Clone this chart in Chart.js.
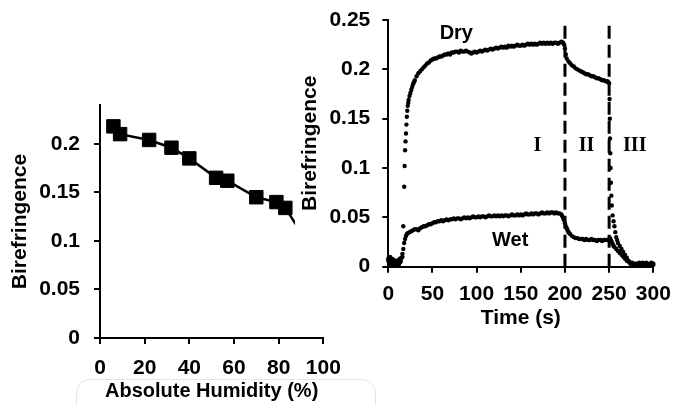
<!DOCTYPE html>
<html><head><meta charset="utf-8">
<script src="https://cdn.jsdelivr.net/npm/chart.js@4.4.1/dist/chart.umd.min.js"></script>
<style>
html,body{margin:0;padding:0;background:#fff;}
body{width:674px;height:405px;position:relative;overflow:hidden;}
#c1{position:absolute;left:0;top:90px;}
#c2{position:absolute;left:295px;top:0;}
#box{position:absolute;left:76px;top:379px;width:298px;height:40px;border:1px solid #e6e6e6;border-radius:14px;}
</style></head>
<body>
<div id="box"></div>
<canvas id="c1" width="345" height="315"></canvas>
<canvas id="c2" width="379" height="335"></canvas>
<script>
// ---------- Left panel: birefringence vs absolute humidity ----------
const humidity = [6, 9, 22, 32, 40, 52, 57, 70, 79, 83, 93];
const humidityBirefringence = [0.218, 0.210, 0.204, 0.196, 0.185, 0.165, 0.162, 0.145, 0.140, 0.134, 0.098];
const humidityXTicks = [0, 20, 40, 60, 80, 100];
const humidityXTickLabels = ['0', '20', '40', '60', '80', '100'];
const humidityYTicks = [0, 0.05, 0.1, 0.15, 0.2];
const humidityYTickLabels = ['0', '0.05', '0.1', '0.15', '0.2'];

// ---------- Right panel: birefringence vs time ----------
const dryTimes = [
  0,2,4,6,8,10,12,14,16,
  17,18,18.5,19,19.5,20,20.5,21,21.5,22,22.5,23,24,25,26,27,28,29,30,
  32,34,36,38,40,42,44,46,48,50,52,54,56,58,60,62,64,66,68,70,72,74,76,78,80,82,84,86,88,90,92,94,96,98,
  100,102,104,106,108,110,112,114,116,118,120,122,124,126,128,130,132,134,136,138,140,142,144,146,148,150,152,154,156,158,160,162,164,166,168,170,172,174,176,178,180,182,184,186,188,190,192,194,196,198,
  199,200,201,202,204,206,208,210,212,214,216,218,220,222,224,226,228,230,232,234,236,238,240,242,244,246,248,249,250,
  250.5,250.8,251,251.3,251.6,252,252.5,253,254,255,256,257,258,259,260,
  262,264,266,268,270,272,274,276,278,280,282,284,286,288,290,292,294,296,298,300
];
const dryValues = [
  0.006,0.003,0.008,0.004,0.002,0.006,0.003,0.007,0.010,
  0.041,0.081,0.102,0.118,0.127,0.135,0.144,0.152,0.158,0.163,0.166,0.169,0.173,0.176,0.179,0.182,0.185,0.187,0.189,
  0.193,0.196,0.198,0.200,0.202,0.204,0.206,0.207,0.209,0.210,0.211,0.211,0.212,0.213,0.213,0.214,0.215,0.215,0.216,0.215,0.217,0.217,0.218,0.218,0.217,0.219,0.218,0.218,0.219,0.218,0.217,0.216,0.217,0.218,
  0.217,0.218,0.219,0.218,0.219,0.220,0.219,0.220,0.221,0.220,0.221,0.222,0.221,0.222,0.223,0.222,0.223,0.222,0.224,0.223,0.224,0.223,0.224,0.225,0.224,0.224,0.225,0.224,0.225,0.226,0.225,0.226,0.225,0.226,0.225,0.226,0.227,0.226,0.227,0.226,0.227,0.226,0.227,0.226,0.227,0.227,0.226,0.227,0.228,0.227,
  0.225,0.221,0.215,0.211,0.208,0.206,0.204,0.203,0.201,0.200,0.199,0.198,0.197,0.196,0.195,0.195,0.194,0.193,0.193,0.192,0.191,0.191,0.190,0.189,0.189,0.188,0.188,0.187,0.186,
  0.170,0.150,0.130,0.115,0.100,0.085,0.072,0.062,0.052,0.046,0.041,0.035,0.030,0.027,0.024,
  0.021,0.018,0.015,0.012,0.009,0.006,0.004,0.003,0.002,0.003,0.001,0.004,0.002,0.003,0.001,0.004,0.002,0.003,0.001,0.003
];
const wetTimes = [
  0,1,2,3,4,5,6,7,8,9,10,11,12,13,14,15,16,
  17,18,19,20,21,22,
  24,26,28,30,32,34,36,38,40,42,44,46,48,50,52,54,56,58,60,62,64,66,68,70,72,74,76,78,80,82,84,86,88,90,92,94,96,98,
  100,102,104,106,108,110,112,114,116,118,120,122,124,126,128,130,132,134,136,138,140,142,144,146,148,150,152,154,156,158,160,162,164,166,168,170,172,174,176,178,180,182,184,186,188,190,192,194,196,
  197,198,199,200,201,202,203,204,205,206,
  208,210,212,214,216,218,220,222,224,226,228,230,232,234,236,238,240,242,244,246,248,250,
  251,252,253,254,255,256,
  258,260,262,264,266,268,270,272,274,276,278,280,282,284,286,288,290,292,294,296,298,300
];
const wetValues = [
  0.008,0.004,0.010,0.003,0.006,0.002,0.007,0.004,0.001,0.005,0.003,0.006,0.002,0.008,0.005,0.009,0.013,
  0.018,0.024,0.028,0.031,0.033,0.034,
  0.035,0.036,0.037,0.038,0.038,0.037,0.039,0.040,0.041,0.041,0.042,0.043,0.043,0.044,0.045,0.045,0.046,0.046,0.047,0.046,0.047,0.048,0.047,0.048,0.048,0.049,0.048,0.049,0.049,0.048,0.049,0.050,0.049,0.050,0.049,0.050,0.051,0.050,
  0.050,0.051,0.050,0.051,0.051,0.050,0.051,0.052,0.051,0.051,0.052,0.051,0.052,0.051,0.052,0.051,0.052,0.052,0.051,0.052,0.053,0.052,0.052,0.053,0.052,0.053,0.052,0.053,0.054,0.053,0.053,0.054,0.053,0.054,0.054,0.053,0.054,0.055,0.054,0.054,0.055,0.054,0.055,0.055,0.054,0.055,0.054,0.054,0.053,
  0.051,0.049,0.047,0.044,0.041,0.039,0.037,0.035,0.034,0.033,
  0.031,0.030,0.029,0.029,0.028,0.028,0.028,0.027,0.028,0.027,0.027,0.028,0.027,0.027,0.026,0.027,0.027,0.026,0.027,0.027,0.027,0.028,
  0.029,0.027,0.025,0.023,0.021,0.020,
  0.018,0.016,0.014,0.012,0.010,0.008,0.006,0.005,0.003,0.004,0.002,0.003,0.001,0.003,0.002,0.004,0.002,0.001,0.003,0.002,0.004,0.002
];
const phaseBoundaries = [200, 250];
const timeXTicks = [0, 50, 100, 150, 200, 250, 300];
const timeXTickLabels = ['0', '50', '100', '150', '200', '250', '300'];
const timeYTicks = [0, 0.05, 0.1, 0.15, 0.2, 0.25];
const timeYTickLabels = ['0', '0.05', '0.1', '0.15', '0.2', '0.25'];
const curveLabels = ['Dry', 'Wet'];
const curveLabelAt = [[77, 0.236], [138, 0.027]];
const phaseLabels = ['I', 'II', 'III'];
const phaseLabelAt = [[168.7, 0.122], [224.3, 0.122], [279, 0.122]];

// ---------- shared styling ----------
const SANS = '"Liberation Sans", Arial, sans-serif';
const SERIF = '"Liberation Serif", "Times New Roman", serif';
Chart.defaults.color = '#000';
Chart.defaults.font.family = SANS;

function axisStyle(tickVals, tickLabels, pad, titleText, titleSize, titlePad) {
  return {
    type: 'linear',
    afterBuildTicks: s => { s.ticks = tickVals.map(v => ({ value: v })); },
    ticks: {
      autoSkip: false, maxRotation: 0, padding: pad, color: '#000',
      font: { family: SANS, size: 21, weight: 'bold' },
      callback: (v, i) => tickLabels[i]
    },
    grid: { display: true, drawOnChartArea: false, drawTicks: true, tickLength: 6, tickWidth: 2, tickColor: '#000', color: '#000', lineWidth: 2 },
    border: { display: true, color: '#000', width: 2 },
    title: { display: true, text: titleText, color: '#000', font: { family: SANS, size: titleSize, weight: 'bold' }, padding: titlePad }
  };
}

// ---------- left chart ----------
const leftX = axisStyle(humidityXTicks, humidityXTickLabels, 12, 'Absolute Humidity (%)', 20, { top: 0, bottom: 1.5 });
leftX.min = 0; leftX.max = 100; leftX.afterFit = s => { s.height = 67; s.paddingLeft = 0; s.paddingRight = 0; };
const leftY = axisStyle(humidityYTicks, humidityYTickLabels, 14, 'Birefringence', 21, { top: 7.4, bottom: 0 });
leftY.min = 0; leftY.max = 0.24; leftY.afterFit = s => { s.width = 100; s.paddingTop = 0; s.paddingBottom = 0; };

new Chart(document.getElementById('c1'), {
  type: 'scatter',
  data: {
    datasets: [{
      data: humidity.map((h, i) => ({ x: h, y: humidityBirefringence[i] })),
      showLine: true, borderColor: '#000', borderWidth: 2.5,
      pointStyle: 'rect', pointRadius: 9.5, pointBackgroundColor: '#000', pointBorderColor: '#000', pointBorderWidth: 1,
      clip: false
    }]
  },
  options: {
    responsive: false, animation: false, devicePixelRatio: 1,
    layout: { padding: { left: 0, top: 15, right: 21.7, bottom: 0 } },
    plugins: { legend: { display: false }, tooltip: { enabled: false } },
    scales: { x: leftX, y: leftY }
  }
});

// ---------- right chart ----------
const rightX = axisStyle(timeXTicks, timeXTickLabels, 9, 'Time (s)', 21, { top: 0, bottom: 4.4 });
rightX.min = 0; rightX.max = 300; rightX.afterFit = s => { s.height = 68.3; s.paddingLeft = 0; s.paddingRight = 0; };
const rightY = axisStyle(timeYTicks, timeYTickLabels, 12, 'Birefringence', 21, { top: 2.4, bottom: 0 });
rightY.min = 0; rightY.max = 0.25; rightY.afterFit = s => { s.width = 93.3; s.paddingTop = 0; s.paddingBottom = 0; };

const whiteBg = {
  id: 'whiteBg',
  beforeDraw(chart) {
    const c = chart.ctx; c.save(); c.fillStyle = '#fff';
    c.fillRect(0, 0, chart.width, chart.height); c.restore();
  }
};
const textLabels = {
  id: 'textLabels',
  afterDatasetsDraw(chart) {
    const c = chart.ctx, xs = chart.scales.x, ys = chart.scales.y;
    c.save(); c.fillStyle = '#000'; c.textAlign = 'center'; c.textBaseline = 'middle';
    c.font = 'bold 20px ' + SANS;
    curveLabels.forEach((t, i) => c.fillText(t, xs.getPixelForValue(curveLabelAt[i][0]), ys.getPixelForValue(curveLabelAt[i][1])));
    c.font = 'bold 20px ' + SERIF;
    phaseLabels.forEach((t, i) => c.fillText(t, xs.getPixelForValue(phaseLabelAt[i][0]), ys.getPixelForValue(phaseLabelAt[i][1])));
    c.restore();
  }
};

const dotStyle = { showLine: false, pointRadius: 2.2, pointBorderWidth: 0, pointBackgroundColor: '#000', pointBorderColor: '#000', clip: false };
new Chart(document.getElementById('c2'), {
  type: 'scatter',
  data: {
    datasets: [
      Object.assign({ label: 'Dry', data: dryTimes.map((t, i) => ({ x: t, y: dryValues[i] })) }, dotStyle),
      Object.assign({ label: 'Wet', data: wetTimes.map((t, i) => ({ x: t, y: wetValues[i] })) }, dotStyle),
      ...phaseBoundaries.map(b => ({
        data: [{ x: b, y: 0 }, { x: b, y: 0.25 }],
        showLine: true, borderColor: '#000', borderWidth: 3, borderDash: [13, 6], pointRadius: 0, clip: false
      }))
    ]
  },
  options: {
    responsive: false, animation: false, devicePixelRatio: 1,
    layout: { padding: { left: 0, top: 20, right: 20.7, bottom: 0 } },
    plugins: { legend: { display: false }, tooltip: { enabled: false } },
    scales: { x: rightX, y: rightY }
  },
  plugins: [whiteBg, textLabels]
});
</script>
</body></html>
